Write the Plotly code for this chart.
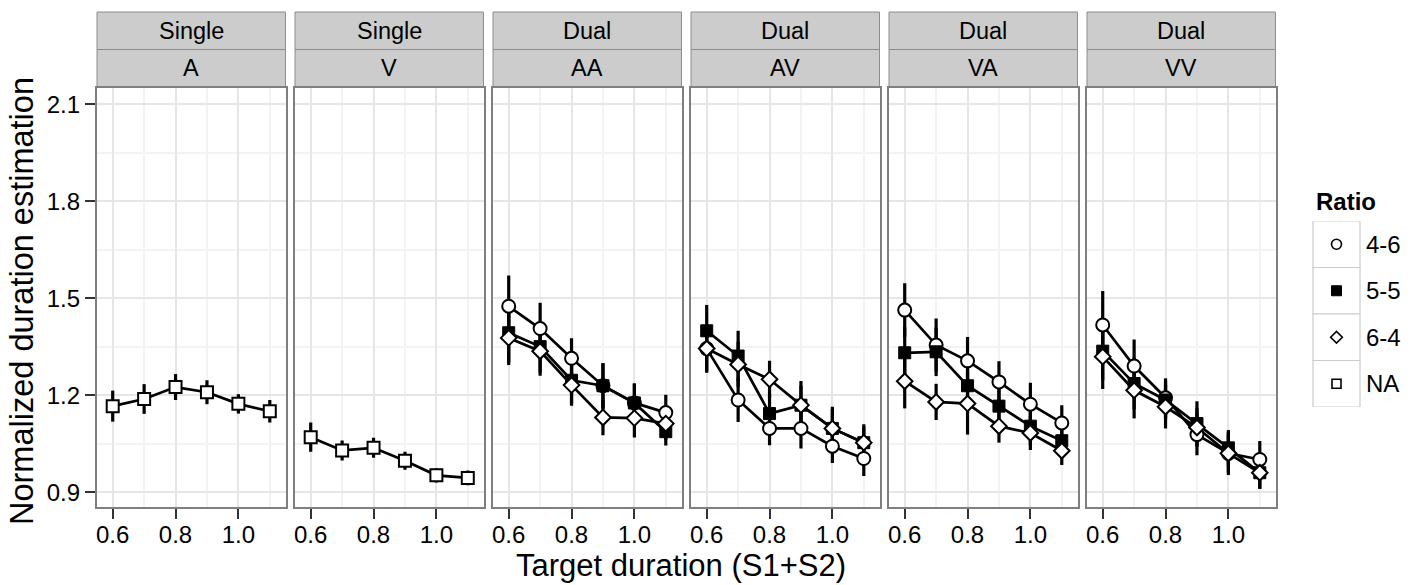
import plotly.graph_objects as go

# ---------------- data ----------------
durations = [0.6, 0.7, 0.8, 0.9, 1.0, 1.1]
x_ticks = [0.6, 0.8, 1.0]
x_ticklabels = ["0.6", "0.8", "1.0"]
x_minor = [0.7, 0.9, 1.1]
y_ticks = [0.9, 1.2, 1.5, 1.8, 2.1]
y_ticklabels = ["0.9", "1.2", "1.5", "1.8", "2.1"]
y_minor = [1.05, 1.35, 1.65, 1.95]

panel_task = ["Single", "Single", "Dual", "Dual", "Dual", "Dual"]
panel_mod = ["A", "V", "AA", "AV", "VA", "VV"]
ratios = ["4-6", "5-5", "6-4", "NA"]

# Single-task panels (ratio NA)
A_NA = [1.166, 1.188, 1.225, 1.209, 1.173, 1.150]
A_NA_err = [0.048, 0.046, 0.040, 0.037, 0.030, 0.035]
V_NA = [1.070, 1.029, 1.037, 0.997, 0.952, 0.944]
V_NA_err = [0.045, 0.031, 0.031, 0.028, 0.022, 0.023]

# Dual-task panels
AA_46 = [1.475, 1.406, 1.314, 1.229, 1.176, 1.146]
AA_46_err = [0.095, 0.080, 0.062, 0.070, 0.060, 0.055]
AA_55 = [1.393, 1.350, 1.246, 1.229, 1.176, 1.087]
AA_55_err = [0.090, 0.080, 0.070, 0.070, 0.060, 0.043]
AA_64 = [1.377, 1.336, 1.231, 1.131, 1.129, 1.112]
AA_64_err = [0.084, 0.076, 0.064, 0.055, 0.060, 0.050]

AV_46 = [1.344, 1.185, 1.097, 1.097, 1.042, 1.004]
AV_46_err = [0.075, 0.068, 0.052, 0.062, 0.052, 0.054]
AV_55 = [1.399, 1.321, 1.143, 1.169, 1.097, 1.053]
AV_55_err = [0.080, 0.078, 0.060, 0.075, 0.067, 0.057]
AV_64 = [1.344, 1.295, 1.249, 1.169, 1.097, 1.053]
AV_64_err = [0.070, 0.070, 0.057, 0.060, 0.060, 0.050]

VA_46 = [1.463, 1.355, 1.306, 1.241, 1.172, 1.114]
VA_46_err = [0.083, 0.082, 0.074, 0.064, 0.066, 0.055]
VA_55 = [1.331, 1.334, 1.229, 1.166, 1.104, 1.059]
VA_55_err = [0.080, 0.075, 0.070, 0.065, 0.060, 0.050]
VA_64 = [1.243, 1.179, 1.174, 1.104, 1.083, 1.028]
VA_64_err = [0.084, 0.056, 0.096, 0.051, 0.053, 0.044]

VV_46 = [1.417, 1.290, 1.192, 1.078, 1.020, 1.001]
VV_46_err = [0.105, 0.082, 0.060, 0.064, 0.067, 0.057]
VV_55 = [1.336, 1.236, 1.185, 1.112, 1.037, 0.960]
VV_55_err = [0.090, 0.080, 0.060, 0.069, 0.055, 0.049]
VV_64 = [1.319, 1.215, 1.164, 1.100, 1.020, 0.960]
VV_64_err = [0.100, 0.087, 0.067, 0.060, 0.060, 0.050]

panel_series = [
    [("NA", A_NA, A_NA_err)],
    [("NA", V_NA, V_NA_err)],
    [("4-6", AA_46, AA_46_err), ("5-5", AA_55, AA_55_err), ("6-4", AA_64, AA_64_err)],
    [("4-6", AV_46, AV_46_err), ("5-5", AV_55, AV_55_err), ("6-4", AV_64, AV_64_err)],
    [("4-6", VA_46, VA_46_err), ("5-5", VA_55, VA_55_err), ("6-4", VA_64, VA_64_err)],
    [("4-6", VV_46, VV_46_err), ("5-5", VV_55, VV_55_err), ("6-4", VV_64, VV_64_err)],
]

# ---------------- styles ----------------
W, H = 1416, 585
FONT = "Liberation Sans, Arial, Helvetica, sans-serif"
marker_style = {
    "4-6": dict(symbol="circle", size=13, color="white", line=dict(color="black", width=2)),
    "5-5": dict(symbol="square", size=12, color="black", line=dict(color="black", width=1)),
    "6-4": dict(symbol="diamond", size=12, color="white", line=dict(color="black", width=2)),
    "NA": dict(symbol="square", size=12, color="white", line=dict(color="black", width=2)),
}
legend_marker_style = {
    "4-6": dict(symbol="circle", size=10, color="white", line=dict(color="black", width=1.6)),
    "5-5": dict(symbol="square", size=10, color="black", line=dict(color="black", width=1)),
    "6-4": dict(symbol="diamond", size=9, color="white", line=dict(color="black", width=1.6)),
    "NA": dict(symbol="square", size=9, color="white", line=dict(color="black", width=1.6)),
}

def fx(p):
    return p / W

def fy(p):
    return 1 - p / H

panel_left0, panel_step, panel_w = 97, 198, 188.5
plot_top, plot_bot = 88, 507
strip1_top, strip_mid, strip2_bot = 12, 49.5, 87

fig = go.Figure()
layout = dict(
    width=W, height=H,
    margin=dict(l=0, r=0, t=0, b=0),
    paper_bgcolor="white", plot_bgcolor="white",
    showlegend=False,
    font=dict(family=FONT, color="black"),
    shapes=[], annotations=[],
)

for i in range(6):
    k = i + 1
    xa = "x" if k == 1 else f"x{k}"
    ya = "y" if k == 1 else f"y{k}"
    left = panel_left0 + panel_step * i
    right = left + panel_w
    layout[f"xaxis{'' if k == 1 else k}"] = dict(
        domain=[fx(left), fx(right)], anchor=ya, range=[0.55, 1.15],
        tickvals=x_ticks, ticktext=x_ticklabels,
        ticks="outside", ticklen=10, tickwidth=2.2, tickcolor="#333333",
        tickfont=dict(size=24, family=FONT, color="black"), ticklabelstandoff=-5,
        showgrid=True, gridcolor="#E6E6E6", gridwidth=1.5,
        minor=dict(tickvals=x_minor, showgrid=True, gridcolor="#F3F3F3", gridwidth=1.5, ticks=""),
        showline=True, mirror=True, linecolor="#7F7F7F", linewidth=2.2,
        zeroline=False, fixedrange=True,
    )
    layout[f"yaxis{'' if k == 1 else k}"] = dict(
        domain=[fy(plot_bot), fy(plot_top)], anchor=xa, range=[0.854, 2.150],
        tickvals=y_ticks, ticktext=y_ticklabels, ticksuffix="\u00a0",
        ticks="outside" if k == 1 else "", ticklen=10, tickwidth=2.2, tickcolor="#333333",
        showticklabels=(k == 1),
        tickfont=dict(size=24, family=FONT, color="black"),
        showgrid=True, gridcolor="#E6E6E6", gridwidth=1.5,
        minor=dict(tickvals=y_minor, showgrid=True, gridcolor="#F3F3F3", gridwidth=1.5, ticks=""),
        showline=True, mirror=True, linecolor="#7F7F7F", linewidth=2.2,
        zeroline=False, fixedrange=True,
    )
    # strips
    for (t0, t1, txt) in [(strip1_top, strip_mid, panel_task[i]), (strip_mid, strip2_bot, panel_mod[i])]:
        layout["shapes"].append(dict(
            type="rect", xref="paper", yref="paper",
            x0=fx(left), x1=fx(right), y0=fy(t1), y1=fy(t0),
            fillcolor="#CCCCCC", line=dict(color="#8C8C8C", width=1), layer="below",
        ))
        layout["annotations"].append(dict(
            xref="paper", yref="paper", x=fx((left + right) / 2), y=fy((t0 + t1) / 2),
            text=txt, showarrow=False, xanchor="center", yanchor="middle",
            font=dict(size=23.5, family=FONT, color="black"),
        ))

    series = panel_series[i]
    # error bars first
    for (r, vals, errs) in series:
        fig.add_trace(go.Scatter(
            x=durations, y=vals, mode="markers", xaxis=xa, yaxis=ya,
            marker=dict(size=1, color="rgba(0,0,0,0)"),
            error_y=dict(type="data", array=errs, visible=True, thickness=3.2, width=0, color="black"),
            hoverinfo="skip",
        ))
    # then lines
    for (r, vals, errs) in series:
        fig.add_trace(go.Scatter(
            x=durations, y=vals, mode="lines", xaxis=xa, yaxis=ya,
            line=dict(color="black", width=2.7), hoverinfo="skip",
        ))
    # then points
    for (r, vals, errs) in series:
        fig.add_trace(go.Scatter(
            x=durations, y=vals, mode="markers", xaxis=xa, yaxis=ya,
            marker=marker_style[r], name=r,
        ))

# ---------------- legend (drawn on its own small axis) ----------------
leg_left, leg_right, leg_top, leg_bot = 1313, 1360, 221, 407
layout["xaxis7"] = dict(domain=[fx(leg_left), fx(leg_right)], anchor="y7", range=[-1, 1],
                        visible=False, fixedrange=True)
layout["yaxis7"] = dict(domain=[fy(leg_bot), fy(leg_top)], anchor="x7", range=[len(ratios) - 0.5, -0.5],
                        visible=False, fixedrange=True)
for j, r in enumerate(ratios):
    layout["shapes"].append(dict(
        type="rect", xref="x7 domain", yref="y7", x0=0, x1=1, y0=j - 0.5, y1=j + 0.5,
        fillcolor="white", line=dict(color="#CCCCCC", width=1.2), layer="below",
    ))
    fig.add_trace(go.Scatter(
        x=[0], y=[j], mode="markers", xaxis="x7", yaxis="y7",
        marker=legend_marker_style[r], hoverinfo="skip",
    ))
    layout["annotations"].append(dict(
        xref="x7 domain", yref="y7", x=1, y=j, xshift=4, text=r, showarrow=False,
        xanchor="left", yanchor="middle", font=dict(size=24, family=FONT, color="black"),
    ))
layout["annotations"].append(dict(
    xref="paper", yref="paper", x=fx(1314), y=fy(201), text="<b>Ratio</b>",
    showarrow=False, xanchor="left", yanchor="middle",
    font=dict(size=24, family=FONT, color="black"),
))

# ---------------- axis titles ----------------
layout["annotations"].append(dict(
    xref="paper", yref="paper", x=fx((panel_left0 + panel_left0 + 5 * panel_step + panel_w) / 2 - 5),
    y=fy(565), text="Target duration (S1+S2)", showarrow=False,
    xanchor="center", yanchor="middle", font=dict(size=31, family=FONT, color="black"),
))
layout["annotations"].append(dict(
    xref="paper", yref="paper", x=fx(22), y=fy(301), text="Normalized duration estimation",
    showarrow=False, textangle=-90, xanchor="center", yanchor="middle",
    font=dict(size=32.5, family=FONT, color="black"),
))

fig.update_layout(**layout)
fig.write_html(
    "out.html",
    config={"displayModeBar": False},
    post_script="document.body.style.margin='0';document.body.style.overflow='hidden';",
)
